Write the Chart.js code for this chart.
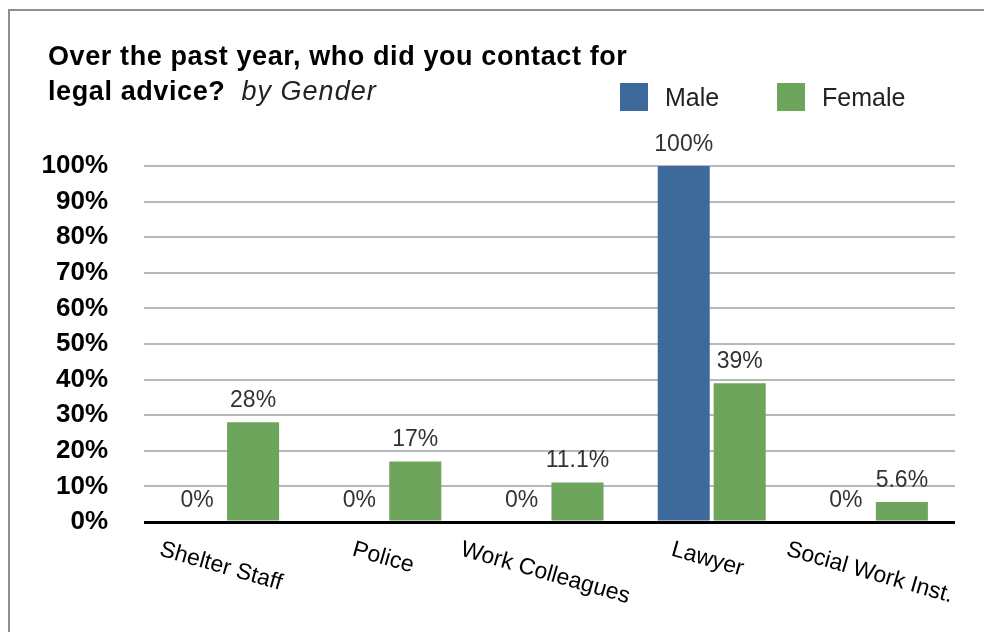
<!DOCTYPE html>
<html>
<head>
<meta charset="utf-8">
<script src="https://cdn.jsdelivr.net/npm/chart.js@4/dist/chart.umd.min.js"></script>
<style>
html,body{margin:0;padding:0;background:#fff;}
#wrap{position:relative;width:984px;height:632px;}
</style>
</head>
<body>
<div id="wrap"><canvas id="c" width="984" height="632"></canvas></div>
<script>
const categories = ["Shelter Staff", "Police", "Work Colleagues", "Lawyer", "Social Work Inst."];
const maleValues = [0, 0, 0, 100, 0];
const femaleValues = [28, 17, 11.1, 39, 5.6];
const seriesNames = ["Male", "Female"];
const yTicks = [0, 10, 20, 30, 40, 50, 60, 70, 80, 90, 100];
const titleLine1 = "Over the past year, who did you contact for";
const titleLine2Bold = "legal advice?";
const titleLine2Italic = "by Gender";

const MALE = "#3d6a9b";
const FEMALE = "#6da55c";
const FONT = "'Liberation Sans', Arial, Helvetica, sans-serif";

const decorPlugin = {
  id: 'decor',
  beforeDraw(chart) {
    const ctx = chart.ctx;
    ctx.save();
    ctx.fillStyle = '#fff';
    ctx.fillRect(0, 0, chart.width, chart.height);
    ctx.fillStyle = '#8e8e8e';
    ctx.fillRect(8, 9, chart.width, 2);
    ctx.fillRect(8, 9, 2, chart.height);
    ctx.restore();
  },
  afterDraw(chart) {
    const ctx = chart.ctx;
    ctx.save();
    // Title
    ctx.fillStyle = '#000';
    ctx.textBaseline = 'alphabetic';
    ctx.textAlign = 'left';
    ctx.font = "bold 27px " + FONT;
    ctx.letterSpacing = '0.6px';
    ctx.fillText(titleLine1, 48, 65);
    ctx.fillText(titleLine2Bold, 48, 100);
    const w = ctx.measureText(titleLine2Bold + "  ").width;
    ctx.font = "italic 27px " + FONT;
    ctx.letterSpacing = '1px';
    ctx.fillStyle = '#222';
    ctx.fillText(titleLine2Italic, 48 + w, 100);
    ctx.letterSpacing = '0px';

    // Legend
    const legend = [[620, 665, MALE, seriesNames[0]], [777, 822, FEMALE, seriesNames[1]]];
    ctx.font = "25px " + FONT;
    legend.forEach(([bx, tx, col, name]) => {
      ctx.fillStyle = col;
      ctx.fillRect(bx, 83, 28, 28);
      ctx.fillStyle = '#222';
      ctx.fillText(name, tx, 106);
    });

    // Data labels
    ctx.font = "23px " + FONT;
    ctx.fillStyle = '#333';
    ctx.textAlign = 'center';
    chart.data.datasets.forEach((ds, di) => {
      const meta = chart.getDatasetMeta(di);
      meta.data.forEach((bar, i) => {
        ctx.fillText(ds.data[i] + '%', bar.x, bar.y - 15);
      });
    });

    // X category labels (rotated)
    const xs = chart.scales.x;
    const ang = 16 * Math.PI / 180;
    ctx.font = "23px " + FONT;
    ctx.fillStyle = '#000';
    ctx.textAlign = 'left';
    ctx.textBaseline = 'top';
    categories.forEach((lab, i) => {
      const cx = xs.getPixelForValue(i) - 1;
      const lw = ctx.measureText(lab).width;
      const sx = cx - lw / 2 * Math.cos(ang);
      ctx.save();
      ctx.translate(sx, 538);
      ctx.rotate(ang);
      ctx.fillText(lab, 0, 0);
      ctx.restore();
    });
    ctx.restore();
  }
};

new Chart(document.getElementById('c'), {
  type: 'bar',
  data: {
    labels: categories,
    datasets: [
      { label: seriesNames[0], data: maleValues, backgroundColor: MALE, borderWidth: 0 },
      { label: seriesNames[1], data: femaleValues, backgroundColor: FEMALE, borderWidth: 0 }
    ]
  },
  options: {
    responsive: false,
    animation: false,
    devicePixelRatio: 1,
    categoryPercentage: 0.69,
    barPercentage: 0.93,
    layout: { padding: { left: 0, right: 29, top: 166, bottom: 110 } },
    plugins: { legend: { display: false }, title: { display: false }, tooltip: { enabled: false } },
    scales: {
      x: {
        afterFit: s => { s.height = 0; },
        ticks: { display: false },
        grid: { display: false },
        border: { display: false }
      },
      y: {
        min: 0, max: 100,
        afterBuildTicks: s => { s.ticks = yTicks.map(v => ({ value: v })); },
        afterFit: s => { s.width = 144; },
        ticks: {
          padding: 36,
          color: '#000',
          font: { family: FONT, size: 26, weight: 'bold' },
          callback: v => v + '%'
        },
        grid: {
          drawTicks: false,
          color: ctx => ctx.tick && ctx.tick.value === 0 ? '#000' : '#b8b8b8',
          lineWidth: ctx => ctx.tick && ctx.tick.value === 0 ? 3 : 2
        },
        border: { display: false }
      }
    }
  },
  plugins: [decorPlugin]
});
</script>
</body>
</html>
